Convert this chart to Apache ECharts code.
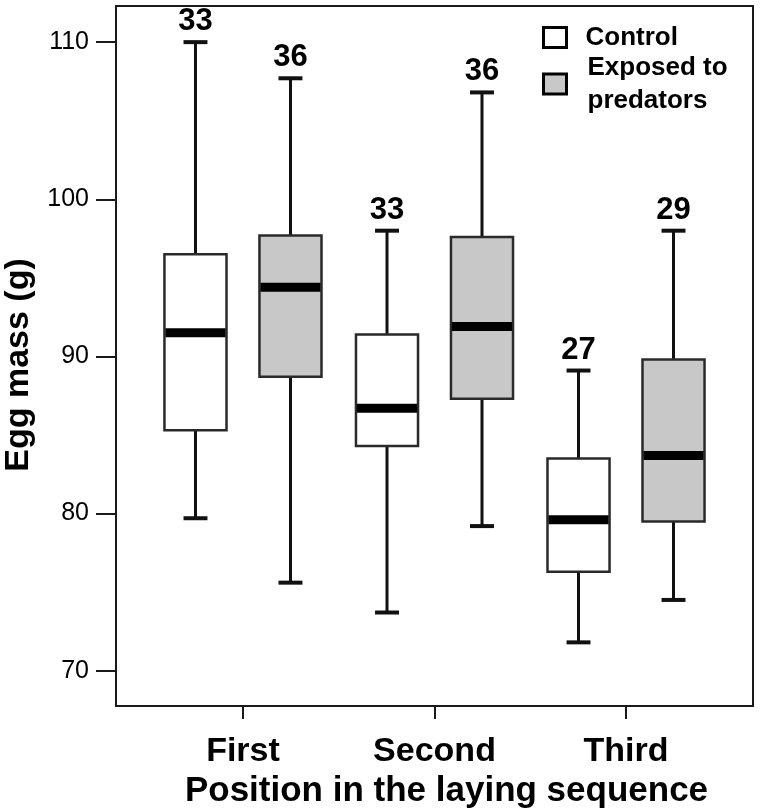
<!DOCTYPE html>
<html><head><meta charset="utf-8">
<script src="https://cdn.jsdelivr.net/npm/echarts@6/dist/echarts.min.js"></script>
<style>html,body{margin:0;padding:0;background:#fff}#c{width:760px;height:809px}</style>
</head><body><div id="c"></div>
<script>
const categories = ['First', 'Second', 'Third'];
const yTicks = [70, 80, 90, 100, 110];
const xTicks = [1, 2, 3];
// [min, Q1, median, Q3, max]
const controlStats = [
  [79.7, 85.3, 91.5, 96.5, 110.0],
  [73.7, 84.3, 86.7, 91.4, 98.0],
  [71.8, 76.3, 79.6, 83.5, 89.1]
];
const exposedStats = [
  [75.6, 88.7, 94.4, 97.7, 107.7],
  [79.2, 87.3, 91.9, 97.6, 106.8],
  [74.5, 79.5, 83.7, 89.8, 98.0]
];
const controlN = [33, 33, 27];
const exposedN = [36, 36, 29];

const FONT = "'Liberation Sans', Arial, sans-serif";

function makeRender(offsetFrac, fill) {
  return function (params, api) {
    const x = api.value(0);
    const mn = api.value(1), q1 = api.value(2), md = api.value(3), q3 = api.value(4), mx = api.value(5), n = api.value(6);
    const step = api.size([1, 0])[0];
    const cx = api.coord([x, md])[0] + offsetFrac * step;
    const yOf = v => api.coord([x, v])[1];
    const bw = 0.324 * step, cw = 0.125 * step;
    const yMn = yOf(mn), yQ1 = yOf(q1), yMd = yOf(md), yQ3 = yOf(q3), yMx = yOf(mx);
    const lineStyle = { stroke: '#111', lineWidth: 3 };
    const capStyle = { stroke: '#111', lineWidth: 4 };
    return {
      type: 'group',
      children: [
        { type: 'line', shape: { x1: cx, y1: yQ3, x2: cx, y2: yMx }, style: lineStyle },
        { type: 'line', shape: { x1: cx, y1: yQ1, x2: cx, y2: yMn }, style: lineStyle },
        { type: 'line', shape: { x1: cx - cw / 2, y1: yMx, x2: cx + cw / 2, y2: yMx }, style: capStyle },
        { type: 'line', shape: { x1: cx - cw / 2, y1: yMn, x2: cx + cw / 2, y2: yMn }, style: capStyle },
        { type: 'rect', shape: { x: cx - bw / 2, y: yQ3, width: bw, height: yQ1 - yQ3 },
          style: { fill: fill, stroke: '#2a2a2a', lineWidth: 2.5 } },
        { type: 'line', shape: { x1: cx - bw / 2 + 1, y1: yMd, x2: cx + bw / 2 - 1, y2: yMd },
          style: { stroke: '#000', lineWidth: 9 } },
        { type: 'text', x: cx, y: yMx - 5,
          style: { text: String(n), fill: '#000', font: 'bold 31px ' + FONT, align: 'center', verticalAlign: 'bottom' } }
      ]
    };
  };
}

const controlData = controlStats.map((s, i) => [xTicks[i], ...s, controlN[i]]);
const exposedData = exposedStats.map((s, i) => [xTicks[i], ...s, exposedN[i]]);

const chart = echarts.init(document.getElementById('c'), null, { renderer: 'canvas' });
chart.setOption({
  backgroundColor: '#fff',
  animation: false,
  grid: { left: 116, right: 7, top: 6, bottom: 103, show: true, borderColor: '#1a1a1a', borderWidth: 2,
    backgroundColor: 'transparent', containLabel: false, outerBoundsMode: 'none' },
  legend: {
    orient: 'vertical', left: 537, top: 16, itemGap: -6, itemWidth: 23, itemHeight: 20, selectedMode: false,
    formatter: name => name === 'Exposed to predators' ? 'Exposed to\npredators' : name,
    textStyle: { fontFamily: FONT, fontWeight: 'bold', fontSize: 26, color: '#000', lineHeight: 33, padding: [0, 0, 0, 14] },
    data: [
      { name: 'Control', icon: 'rect', itemStyle: { color: '#fff', borderColor: '#000', borderWidth: 3 } },
      { name: 'Exposed to predators', icon: 'rect', itemStyle: { color: '#c8c8c8', borderColor: '#000', borderWidth: 3 },
        textStyle: { padding: [6, 0, 0, 16] } }
    ]
  },
  xAxis: {
    type: 'value', min: 0.337, max: 3.663,
    name: 'Position in the laying sequence', nameLocation: 'middle', nameGap: 64,
    nameTextStyle: { fontFamily: FONT, fontWeight: 'bold', fontSize: 35, color: '#000', padding: [0, 0, 0, 24] },
    axisLine: { show: true, lineStyle: { color: '#1a1a1a', width: 2 } },
    axisTick: { show: true, length: 13, customValues: xTicks, lineStyle: { color: '#1a1a1a', width: 2 } },
    axisLabel: { customValues: xTicks, margin: 29, formatter: v => categories[Math.round(v) - 1] || '',
      fontFamily: FONT, fontWeight: 'bold', fontSize: 34, color: '#000' },
    splitLine: { show: false }
  },
  yAxis: {
    type: 'value', min: 67.75, max: 112.3,
    name: 'Egg mass (g)', nameLocation: 'middle', nameGap: 80, nameRotate: 90,
    nameTextStyle: { fontFamily: FONT, fontWeight: 'bold', fontSize: 34, color: '#000', padding: [0, 18, 0, 0] },
    axisLine: { show: true, lineStyle: { color: '#1a1a1a', width: 2 } },
    axisTick: { show: true, length: 20, customValues: yTicks, lineStyle: { color: '#1a1a1a', width: 2 } },
    axisLabel: { customValues: yTicks, margin: 27, fontFamily: FONT, fontSize: 25, color: '#000' },
    splitLine: { show: false }
  },
  series: [
    { name: 'Control', type: 'custom', renderItem: makeRender(-0.248, '#ffffff'), data: controlData,
      itemStyle: { color: '#fff', borderColor: '#000' }, encode: { x: 0, y: [1, 2, 3, 4, 5] }, clip: false },
    { name: 'Exposed to predators', type: 'custom', renderItem: makeRender(0.248, '#c8c8c8'), data: exposedData,
      itemStyle: { color: '#c8c8c8', borderColor: '#000' }, encode: { x: 0, y: [1, 2, 3, 4, 5] }, clip: false }
  ]
});
</script></body></html>
